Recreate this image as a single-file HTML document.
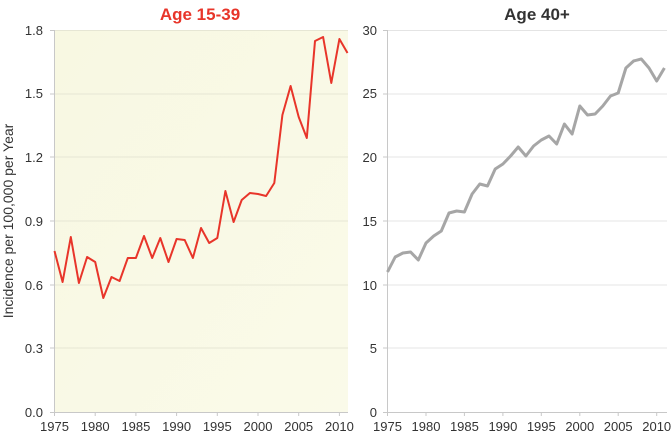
<!DOCTYPE html>
<html><head><meta charset="utf-8"><style>
html,body{margin:0;padding:0;background:#fff;}
svg text{font-family:"Liberation Sans",sans-serif;}
</style></head><body>
<svg width="671" height="435" viewBox="0 0 671 435" xmlns="http://www.w3.org/2000/svg">
<defs>
<linearGradient id="bg" x1="0" y1="0" x2="1" y2="1">
<stop offset="0" stop-color="#f8f8e2"/><stop offset="1" stop-color="#fafae9"/>
</linearGradient>
</defs>
<rect x="55" y="30" width="293" height="382" fill="url(#bg)"/>
<g stroke="#e6e6d4" stroke-width="1">
<line x1="55" y1="30.5" x2="348" y2="30.5"/><line x1="55" y1="94" x2="348" y2="94"/><line x1="55" y1="157" x2="348" y2="157"/><line x1="55" y1="221" x2="348" y2="221"/><line x1="55" y1="285" x2="348" y2="285"/><line x1="55" y1="348" x2="348" y2="348"/>
</g>
<g stroke="#e4e4e4" stroke-width="1">
<line x1="388" y1="30.5" x2="667" y2="30.5"/><line x1="388" y1="94" x2="667" y2="94"/><line x1="388" y1="157" x2="667" y2="157"/><line x1="388" y1="221" x2="667" y2="221"/><line x1="388" y1="285" x2="667" y2="285"/><line x1="388" y1="348" x2="667" y2="348"/>
</g>
<g stroke="#c8c8c8" stroke-width="1" fill="none">
<path d="M54.5 30V412.5H348"/>
<path d="M50 30.5h4M50 94h4M50 157h4M50 221h4M50 285h4M50 348h4M50 412.5h4"/>
<path d="M54.5 412v4M95.2 412v4M135.9 412v4M176.6 412v4M217.3 412v4M258 412v4M298.7 412v4M339.4 412v4"/>
<path d="M387.5 30V412.5H667"/>
<path d="M383 30.5h4M383 94h4M383 157h4M383 221h4M383 285h4M383 348h4M383 412.5h4"/>
<path d="M387.5 412v4M426 412v4M464.4 412v4M502.9 412v4M541.3 412v4M579.8 412v4M618.2 412v4M656.7 412v4"/>
</g>
<g font-size="13" fill="#333" text-anchor="end">
<text x="43" y="35">1.8</text><text x="43" y="98">1.5</text><text x="43" y="162">1.2</text><text x="43" y="226">0.9</text><text x="43" y="290">0.6</text><text x="43" y="353">0.3</text><text x="43" y="417">0.0</text>
<text x="377" y="35">30</text><text x="377" y="98">25</text><text x="377" y="162">20</text><text x="377" y="226">15</text><text x="377" y="290">10</text><text x="377" y="353">5</text><text x="377" y="417">0</text>
</g>
<g font-size="13" fill="#333" text-anchor="middle">
<text x="54.5" y="431">1975</text><text x="95.2" y="431">1980</text><text x="135.9" y="431">1985</text><text x="176.6" y="431">1990</text><text x="217.3" y="431">1995</text><text x="258" y="431">2000</text><text x="298.7" y="431">2005</text><text x="339.4" y="431">2010</text>
<text x="387.5" y="431">1975</text><text x="426" y="431">1980</text><text x="464.4" y="431">1985</text><text x="502.9" y="431">1990</text><text x="541.3" y="431">1995</text><text x="579.8" y="431">2000</text><text x="618.2" y="431">2005</text><text x="656.7" y="431">2010</text>
</g>
<text x="0" y="0" font-size="14" fill="#333" text-anchor="middle" transform="translate(13,221) rotate(-90)">Incidence per 100,000 per Year</text>
<text x="200" y="20" font-size="17" font-weight="bold" fill="#e8352a" text-anchor="middle">Age 15-39</text>
<text x="537" y="20" font-size="17" font-weight="bold" fill="#333" text-anchor="middle">Age 40+</text>
<polyline fill="none" stroke="#e8352a" stroke-width="2" stroke-linejoin="round" points="54.5,251 62.6,282 70.8,237 78.9,283 87.1,257 95.2,262 103.3,298 111.5,277 119.6,281 127.8,258 135.9,258 144,236 152.2,258 160.3,238 168.5,262 176.6,239 184.7,240 192.9,258 201,228 209.2,243 217.3,238 225.4,191 233.6,222 241.7,200 249.9,193 258,194 266.1,196 274.3,183 282.4,115 290.6,86 298.7,117 306.8,138 315,41 323.1,37 331.3,83 339.4,39 347.5,53"/>
<polyline fill="none" stroke="#a6a6a6" stroke-width="3" stroke-linejoin="round" points="387.5,272 395.2,257 402.9,253 410.6,252 418.3,260 426,243 433.7,236 441.3,231 449,213 456.7,211 464.4,212 472.1,194 479.8,184 487.5,186 495.2,169 502.9,164 510.6,156 518.2,147 525.9,156 533.6,146 541.3,140 549,136 556.7,144 564.4,124 572.1,134 579.8,106 587.5,115 595.1,114 602.8,106 610.5,96 618.2,93 625.9,68 633.6,61 641.3,59 649,68 656.7,81 664.4,68"/>
</svg>
</body></html>
